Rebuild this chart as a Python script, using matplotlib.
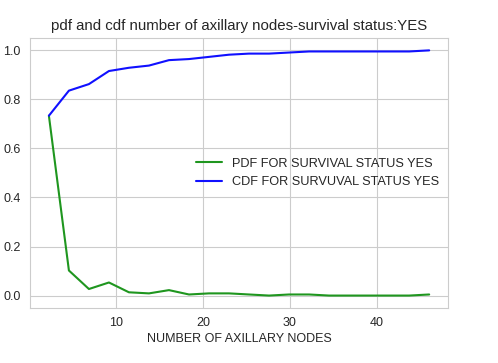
import numpy as np
import matplotlib
matplotlib.use('Agg')
import matplotlib.pyplot as plt
import seaborn as sns

sns.set_style('whitegrid')
plt.rcParams['font.family'] = ['Liberation Sans', 'DejaVu Sans']

# bin right edges of nodes histogram (survival status = yes)
nodes = [2.3, 4.6, 6.9, 9.2, 11.5, 13.8, 16.1, 18.4, 20.7, 23.0,
         25.3, 27.6, 29.9, 32.2, 34.5, 36.8, 39.1, 41.4, 43.7, 46.0]
pdf = [0.7333, 0.1022, 0.0267, 0.0533, 0.0133, 0.0089, 0.0222, 0.0044, 0.0089, 0.0089,
       0.0044, 0.0, 0.0044, 0.0044, 0.0, 0.0, 0.0, 0.0, 0.0, 0.0044]
cdf = np.cumsum(pdf)

fig = plt.figure(figsize=(4.98, 3.63), dpi=100)
ax = fig.add_axes([0.060, 0.152, 0.840, 0.743])
ax.plot(nodes, pdf, color='#1f961f', linewidth=1.5, label='PDF FOR SURVIVAL STATUS YES')
ax.plot(nodes, cdf, color='#1010ff', linewidth=1.5, label='CDF FOR SURVUVAL STATUS YES')
ax.set_title('pdf and cdf number of axillary nodes-survival status:YES', fontsize=10.8, color='.15')
ax.set_xlabel('NUMBER OF AXILLARY NODES', fontsize=9, color='.15', labelpad=3)
ax.tick_params(labelsize=9, pad=3)
ax.set_yticks([0.0, 0.2, 0.4, 0.6, 0.8, 1.0])
ax.legend(loc='center right', fontsize=9.2, frameon=False, borderaxespad=0.3)
fig.savefig('out.png', dpi=100)
